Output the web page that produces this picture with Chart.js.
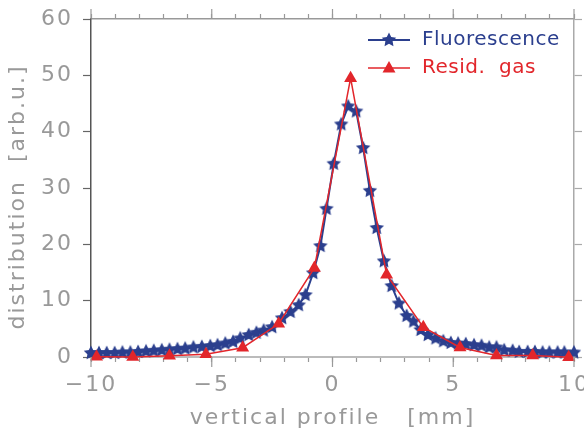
<!DOCTYPE html>
<html lang="en">
<head>
  <meta charset="UTF-8">
  <title>Vertical profile</title>
  <script src="https://cdn.jsdelivr.net/npm/chart.js@4.4.1/dist/chart.umd.min.js"></script>
  <style>
    body { margin: 0; background: #fff; }
    .chart-container { position: relative; width: 584px; height: 431px; }
  </style>
</head>
<body>
  <div class="chart-container">
    <canvas id="profileChart"></canvas>
  </div>

  <script>
    // Fluorescence profile (stars)
    const fluoX = [-10, -9.67, -9.35, -9.02, -8.7, -8.37, -8.05, -7.72, -7.4, -7.07, -6.75, -6.42, -6.1,
      -5.76, -5.41, -5.06, -4.76, -4.44, -4.12, -3.82, -3.47, -3.15, -2.85, -2.5, -2.09, -1.74, -1.4,
      -1.12, -0.8, -0.5, -0.25, 0.05, 0.36, 0.65, 0.98, 1.27, 1.55, 1.83, 2.13, 2.45, 2.75, 3.07, 3.35,
      3.65, 3.95, 4.27, 4.59, 4.9, 5.2, 5.52, 5.86, 6.17, 6.49, 6.79, 7.11, 7.46, 7.73, 8.08, 8.38,
      8.7, 8.98, 9.32, 9.6, 10.0];
    const fluoY = [0.7, 0.7, 0.7, 0.7, 0.8, 0.8, 0.9, 1.0, 1.1, 1.2, 1.3, 1.4, 1.5,
      1.7, 1.8, 1.95, 2.1, 2.4, 2.7, 3.3, 3.9, 4.3, 4.7, 5.3, 6.9, 8.0, 9.2,
      11.0, 14.9, 19.7, 26.3, 34.3, 41.3, 44.5, 43.6, 37.1, 29.5, 22.9, 17.0, 12.6, 9.5, 7.3, 6.3,
      4.8, 3.9, 3.3, 2.8, 2.5, 2.4, 2.3, 2.1, 2.0, 1.7, 1.7, 1.2, 1.1, 0.9, 0.9, 0.9,
      0.8, 0.8, 0.8, 0.8, 0.8];

    // Residual gas profile (triangles)
    const gasX = [-9.77, -8.27, -6.75, -5.24, -3.72, -2.23, -0.75, 0.75, 2.24, 3.76, 5.28, 6.79, 8.29, 9.78];
    const gasY = [0.05, 0, 0.2, 0.5, 1.65, 5.9, 15.8, 49.5, 14.6, 5.3, 1.7, 0.25, 0.25, -0.05];

    const xMajorTicks = [-10, -5, 0, 5, 10];
    const yTicks = [0, 10, 20, 30, 40, 50, 60];

    const navy = '#2b3f8e';
    const red = '#e2262b';
    const grey = '#999999';
    const font = { family: 'DejaVu Sans', size: 22 };

    function makeStar(r, color) {
      const c = document.createElement('canvas');
      const s = Math.ceil(r * 2) + 2;
      c.width = c.height = s;
      const ctx = c.getContext('2d');
      ctx.fillStyle = color;
      ctx.beginPath();
      for (let i = 0; i < 10; i++) {
        const a = -Math.PI / 2 + i * Math.PI / 5;
        const rr = i % 2 ? r * 0.5 : r;
        ctx.lineTo(s / 2 + rr * Math.cos(a), s / 2 + rr * Math.sin(a));
      }
      ctx.closePath();
      ctx.fill();
      return c;
    }
    const starImg = makeStar(7.6, navy);

    const toPoints = (xs, ys) => xs.map((x, i) => ({ x, y: ys[i] }));

    // wide letter spacing like the original plot font
    const spacingPlugin = {
      id: 'spacing',
      beforeDraw(chart) { chart.ctx.letterSpacing = '2px'; }
    };

    // longer tick marks at the labelled positions + legend inside the plot
    const decorPlugin = {
      id: 'decor',
      afterDraw(chart) {
        const ctx = chart.ctx;
        const xb = chart.scales.x;
        const area = chart.chartArea;
        ctx.save();
        ctx.lineWidth = 1.2;
        ctx.strokeStyle = '#999';
        xMajorTicks.forEach(v => {
          const px = xb.getPixelForValue(v);
          ctx.beginPath(); ctx.moveTo(px, area.bottom); ctx.lineTo(px, area.bottom + 10); ctx.stroke();
          ctx.beginPath(); ctx.moveTo(px, area.top); ctx.lineTo(px, area.top - 10); ctx.stroke();
        });

        // legend
        const x0 = area.right - 206, x1 = area.right - 164, xm = (x0 + x1) / 2;
        const rows = [
          { label: 'Fluorescence', color: navy, y: area.top + 21, star: true, w: 2 },
          { label: 'Resid.  gas', color: red, y: area.top + 49, star: false, w: 1.5 }
        ];
        ctx.font = '20px "DejaVu Sans"';
        ctx.letterSpacing = '0.5px';
        ctx.textBaseline = 'middle';
        rows.forEach(r => {
          ctx.strokeStyle = r.color;
          ctx.lineWidth = r.w;
          ctx.beginPath(); ctx.moveTo(x0, r.y); ctx.lineTo(x1, r.y); ctx.stroke();
          if (r.star) {
            ctx.drawImage(starImg, xm - starImg.width / 2, r.y - starImg.height / 2);
          } else {
            ctx.fillStyle = r.color;
            ctx.beginPath();
            ctx.moveTo(xm, r.y - 7); ctx.lineTo(xm + 6.5, r.y + 4.5); ctx.lineTo(xm - 6.5, r.y + 4.5);
            ctx.closePath(); ctx.fill();
          }
          ctx.fillStyle = r.color;
          ctx.fillText(r.label, x1 + 12, r.y);
        });
        ctx.restore();
      }
    };

    const fmt = v => (v < 0 ? '\u2212' + Math.abs(v) : String(v));
    const noPadX = s => { s.paddingLeft = 0; s.paddingRight = 0; };
    const noPadY = s => { s.paddingTop = 0; s.paddingBottom = 0; };

    new Chart(document.getElementById('profileChart').getContext('2d'), {
      type: 'line',
      data: {
        datasets: [
          {
            label: 'Resid. gas', data: toPoints(gasX, gasY), borderColor: red, backgroundColor: red,
            borderWidth: 1.5, pointStyle: 'triangle', pointRadius: 7.5, pointBorderWidth: 0,
            tension: 0, clip: false, order: 0
          },
          {
            label: 'Fluorescence', data: toPoints(fluoX, fluoY), borderColor: navy, backgroundColor: navy,
            borderWidth: 2, pointStyle: starImg, tension: 0, clip: false, order: 1
          }
        ]
      },
      options: {
        responsive: true,
        maintainAspectRatio: false,
        animation: false,
        layout: { padding: 0 },
        plugins: { legend: { display: false }, tooltip: { enabled: false } },
        scales: {
          x: {
            type: 'linear', position: 'bottom', min: -10, max: 10,
            afterFit: s => { s.height = 74; noPadX(s); },
            ticks: {
              stepSize: 1, autoSkip: false, maxRotation: 0, color: grey, font, padding: 10,
              callback: v => (v % 5 === 0 ? fmt(v) : '')
            },
            grid: { drawOnChartArea: false, tickLength: 5, tickColor: '#999', tickWidth: 1.2 },
            border: { color: '#bbb', width: 2 },
            title: { display: true, text: 'vertical profile   [mm]', color: grey, font, padding: { top: 0, bottom: 0 } }
          },
          x2: {
            type: 'linear', position: 'top', min: -10, max: 10,
            afterFit: s => { s.height = 19; noPadX(s); },
            ticks: { stepSize: 1, autoSkip: false, display: false },
            grid: { drawOnChartArea: false, tickLength: 5, tickColor: '#999', tickWidth: 1.2 },
            border: { color: '#999', width: 1.5 }
          },
          y: {
            type: 'linear', position: 'left', min: 0, max: 60,
            afterFit: s => { s.width = 91; noPadY(s); },
            afterBuildTicks: s => { s.ticks = yTicks.map(v => ({ value: v })); },
            ticks: { color: grey, font, padding: 10 },
            grid: { drawOnChartArea: false, tickLength: 8, tickColor: '#666', tickWidth: 1.2 },
            border: { color: '#555', width: 1.5 },
            title: { display: true, text: 'distribution  [arb.u.]  ', color: grey, font, padding: { top: 5, bottom: 0 } }
          },
          y2: {
            type: 'linear', position: 'right', min: 0, max: 60,
            afterFit: s => { s.width = 10; noPadY(s); },
            afterBuildTicks: s => { s.ticks = yTicks.map(v => ({ value: v })); },
            ticks: { display: false },
            grid: { drawOnChartArea: false, tickLength: 8, tickColor: '#aaa', tickWidth: 1.2 },
            border: { color: '#aaa', width: 1.5 }
          }
        }
      },
      plugins: [spacingPlugin, decorPlugin]
    });
  </script>
</body>
</html>
